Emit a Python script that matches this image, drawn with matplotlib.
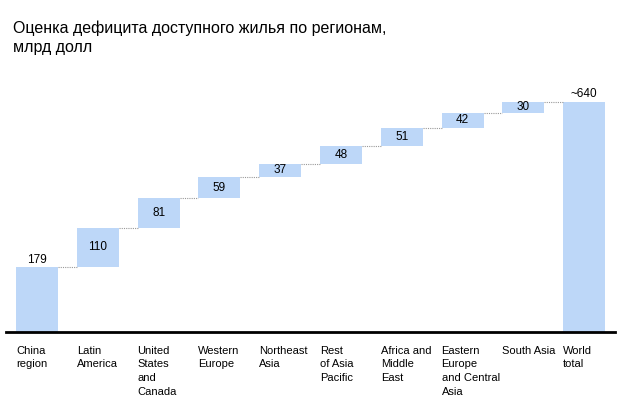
import matplotlib
matplotlib.use("Agg")
import matplotlib.pyplot as plt

plt.rcParams['font.family'] = ['Liberation Sans', 'DejaVu Sans']

categories = ["China\nregion", "Latin\nAmerica", "United\nStates\nand\nCanada",
              "Western\nEurope", "Northeast\nAsia", "Rest\nof Asia\nPacific",
              "Africa and\nMiddle\nEast", "Eastern\nEurope\nand Central\nAsia",
              "South Asia", "World\ntotal"]
increments = [179, 110, 81, 59, 37, 48, 51, 42, 30]
value_labels = ["179", "110", "81", "59", "37", "48", "51", "42", "30", "~640"]
title = "Оценка дефицита доступного жилья по регионам,\nмлрд долл"

bar_color = "#BDD7F8"

fig = plt.figure(figsize=(6.41, 4.04), dpi=100)
ax = fig.add_axes([6/641, 72/404, 609/641, 253/404])

total = sum(increments)
bottoms = []
heights = []
cum = 0
for i, v in enumerate(increments):
    bottoms.append(0 if i == 0 else cum)
    heights.append(v)
    cum += v
bottoms.append(0)
heights.append(total)

w = 0.69
xs = list(range(len(categories)))
ax.bar(xs, heights, bottom=bottoms, width=w, align='edge', color=bar_color, edgecolor='none')

# connectors
levels = []
cum = 0
for v in increments:
    cum += v
    levels.append(cum)
for i in range(len(categories) - 1):
    ax.plot([i + w, i + 1], [levels[i], levels[i]], color="#999999", lw=0.8,
            linestyle=(0, (1, 1)))

# value labels
for i in range(len(categories)):
    b, h = bottoms[i], heights[i]
    if i == 0 or i == len(categories) - 1:
        ax.text(i + w / 2, b + h + 4, value_labels[i], ha='center', va='bottom', fontsize=8.5)
    else:
        ax.text(i + w / 2, b + h / 2, value_labels[i], ha='center', va='center', fontsize=8.5)

# category labels
for i, c in enumerate(categories):
    ax.annotate(c, xy=(i, 0), xytext=(0, -10), textcoords='offset points',
                ha='left', va='top', fontsize=8, linespacing=1.45)

ax.set_xlim(-10/60.8, (615 - 16)/60.8)
ax.set_ylim(0, 700)
for s in ['top', 'right', 'left']:
    ax.spines[s].set_visible(False)
ax.spines['bottom'].set_linewidth(2)
ax.spines['bottom'].set_color('black')
ax.set_xticks([])
ax.set_yticks([])

fig.text(13/641, 1 - 20/404, title, ha='left', va='top', fontsize=11.5, linespacing=1.35)

fig.savefig("out.png", dpi=100)
